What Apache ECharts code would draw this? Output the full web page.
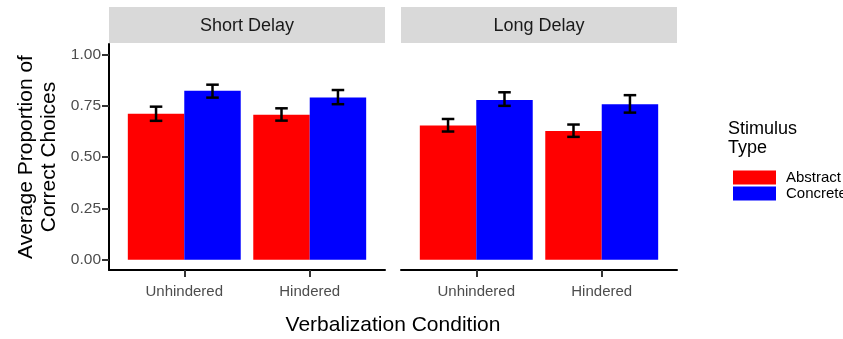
<!DOCTYPE html>
<html>
<head>
<meta charset="utf-8">
<script src="https://cdn.jsdelivr.net/npm/echarts@6/dist/echarts.min.js"></script>
<style>
html,body{margin:0;padding:0;background:#fff;}
#chart{width:843px;height:339px;}
</style>
</head>
<body>
<div id="chart"></div>
<script>
var categories = ['Unhindered', 'Hindered'];
var panels = ['Short Delay', 'Long Delay'];
var stimulusTypes = ['Abstract', 'Concrete'];
var yTicks = [0, 0.25, 0.5, 0.75, 1];

var shortAbstractMean = [0.710, 0.706];
var shortAbstractLo   = [0.676, 0.677];
var shortAbstractHi   = [0.745, 0.737];
var shortConcreteMean = [0.823, 0.789];
var shortConcreteLo   = [0.789, 0.757];
var shortConcreteHi   = [0.852, 0.826];

var longAbstractMean = [0.653, 0.627];
var longAbstractLo   = [0.624, 0.598];
var longAbstractHi   = [0.685, 0.658];
var longConcreteMean = [0.778, 0.757];
var longConcreteLo   = [0.749, 0.716];
var longConcreteHi   = [0.815, 0.801];

var FONT = 'Liberation Sans, Arial, sans-serif';
var colors = {Abstract: '#ff0000', Concrete: '#0000ff'};

function rows(mean, lo, hi) {
  return categories.map(function (c, i) { return [i + 1, mean[i], lo[i], hi[i]]; });
}

function makeRender(side) {
  return function (params, api) {
    var x = api.value(0), m = api.value(1), lo = api.value(2), hi = api.value(3);
    var x0 = side < 0 ? x - 0.45 : x;
    var pTop = api.coord([x0, m]);
    var pBot = api.coord([x0 + 0.45, 0]);
    var cLo = api.coord([x0 + 0.225, lo]);
    var cHi = api.coord([x0 + 0.225, hi]);
    var cap = api.size([0.05, 0])[0];
    var es = {stroke: '#000', lineWidth: 2.5};
    return {
      type: 'group',
      children: [
        {type: 'rect', shape: {x: pTop[0], y: pTop[1], width: pBot[0] - pTop[0], height: pBot[1] - pTop[1]},
         style: {fill: api.visual('color')}},
        {type: 'line', shape: {x1: cLo[0], y1: cLo[1], x2: cHi[0], y2: cHi[1]}, style: es},
        {type: 'line', shape: {x1: cLo[0] - cap, y1: cLo[1], x2: cLo[0] + cap, y2: cLo[1]}, style: es},
        {type: 'line', shape: {x1: cHi[0] - cap, y1: cHi[1], x2: cHi[0] + cap, y2: cHi[1]}, style: es}
      ]
    };
  };
}

function xAxisFor(gi) {
  return {
    type: 'value', gridIndex: gi, min: 0.4, max: 2.6,
    splitLine: {show: false},
    axisLine: {show: true, onZero: false, lineStyle: {color: '#000', width: 2}},
    axisTick: {show: true, customValues: [1, 2], length: 7, lineStyle: {color: '#333', width: 2}},
    axisLabel: {customValues: [1, 2], margin: 14, color: '#4d4d4d', fontSize: 15, fontFamily: FONT,
      formatter: function (v) { return categories[Math.round(v) - 1]; }}
  };
}

var chart = echarts.init(document.getElementById('chart'), null, {renderer: 'canvas'});
chart.setOption({
  animation: false,
  backgroundColor: '#fff',
  grid: [
    {left: 109, top: 44, width: 276, height: 226, containLabel: false, outerBoundsMode: 'none'},
    {left: 401, top: 44, width: 276, height: 226, containLabel: false, outerBoundsMode: 'none'}
  ],
  xAxis: [xAxisFor(0), xAxisFor(1)],
  yAxis: [
    {
      type: 'value', gridIndex: 0, min: -0.05, max: 1.05,
      splitLine: {show: false},
      axisLine: {show: true, lineStyle: {color: '#000', width: 2}},
      axisTick: {show: true, customValues: yTicks, length: 7, lineStyle: {color: '#333', width: 2}},
      axisLabel: {customValues: yTicks, margin: 8, color: '#4d4d4d', fontSize: 15.5, fontFamily: FONT,
        formatter: function (v) { return v.toFixed(2); }},
      name: 'Average Proportion of\nCorrect Choices', nameLocation: 'middle', nameGap: 48,
      nameTextStyle: {fontSize: 21, lineHeight: 23, color: '#000', fontFamily: FONT}
    },
    {
      type: 'value', gridIndex: 1, min: -0.05, max: 1.05,
      splitLine: {show: false}, axisLine: {show: false}, axisTick: {show: false}, axisLabel: {show: false}
    }
  ],
  legend: {
    orient: 'vertical', left: 728, top: 165, itemWidth: 43, itemHeight: 14, itemGap: 1,
    icon: 'rect', data: stimulusTypes,
    textStyle: {fontSize: 15, color: '#000', fontFamily: FONT, lineHeight: 14, padding: [0, 0, 0, 5]}
  },
  graphic: [
    {type: 'rect', shape: {x: 109, y: 7, width: 276, height: 36}, style: {fill: '#d9d9d9'}, silent: true},
    {type: 'rect', shape: {x: 401, y: 7, width: 276, height: 36}, style: {fill: '#d9d9d9'}, silent: true},
    {type: 'text', style: {text: panels[0], x: 247, y: 26, textAlign: 'center', textVerticalAlign: 'middle',
      fontSize: 18, fill: '#1a1a1a', fontFamily: FONT}},
    {type: 'text', style: {text: panels[1], x: 539, y: 26, textAlign: 'center', textVerticalAlign: 'middle',
      fontSize: 18, fill: '#1a1a1a', fontFamily: FONT}},
    {type: 'text', style: {text: 'Verbalization Condition', x: 393, y: 325, textAlign: 'center', textVerticalAlign: 'middle',
      fontSize: 21, fill: '#000', fontFamily: FONT}},
    {type: 'text', style: {text: 'Stimulus', x: 728, y: 129, textAlign: 'left', textVerticalAlign: 'middle',
      fontSize: 18, fill: '#000', fontFamily: FONT}},
    {type: 'text', style: {text: 'Type', x: 728, y: 148, textAlign: 'left', textVerticalAlign: 'middle',
      fontSize: 18, fill: '#000', fontFamily: FONT}}
  ],
  series: [
    {type: 'custom', name: 'Abstract', xAxisIndex: 0, yAxisIndex: 0, itemStyle: {color: colors.Abstract},
     renderItem: makeRender(-1), data: rows(shortAbstractMean, shortAbstractLo, shortAbstractHi), clip: false},
    {type: 'custom', name: 'Concrete', xAxisIndex: 0, yAxisIndex: 0, itemStyle: {color: colors.Concrete},
     renderItem: makeRender(1), data: rows(shortConcreteMean, shortConcreteLo, shortConcreteHi), clip: false},
    {type: 'custom', name: 'Abstract', xAxisIndex: 1, yAxisIndex: 1, itemStyle: {color: colors.Abstract},
     renderItem: makeRender(-1), data: rows(longAbstractMean, longAbstractLo, longAbstractHi), clip: false},
    {type: 'custom', name: 'Concrete', xAxisIndex: 1, yAxisIndex: 1, itemStyle: {color: colors.Concrete},
     renderItem: makeRender(1), data: rows(longConcreteMean, longConcreteLo, longConcreteHi), clip: false}
  ]
});
</script>
</body>
</html>
